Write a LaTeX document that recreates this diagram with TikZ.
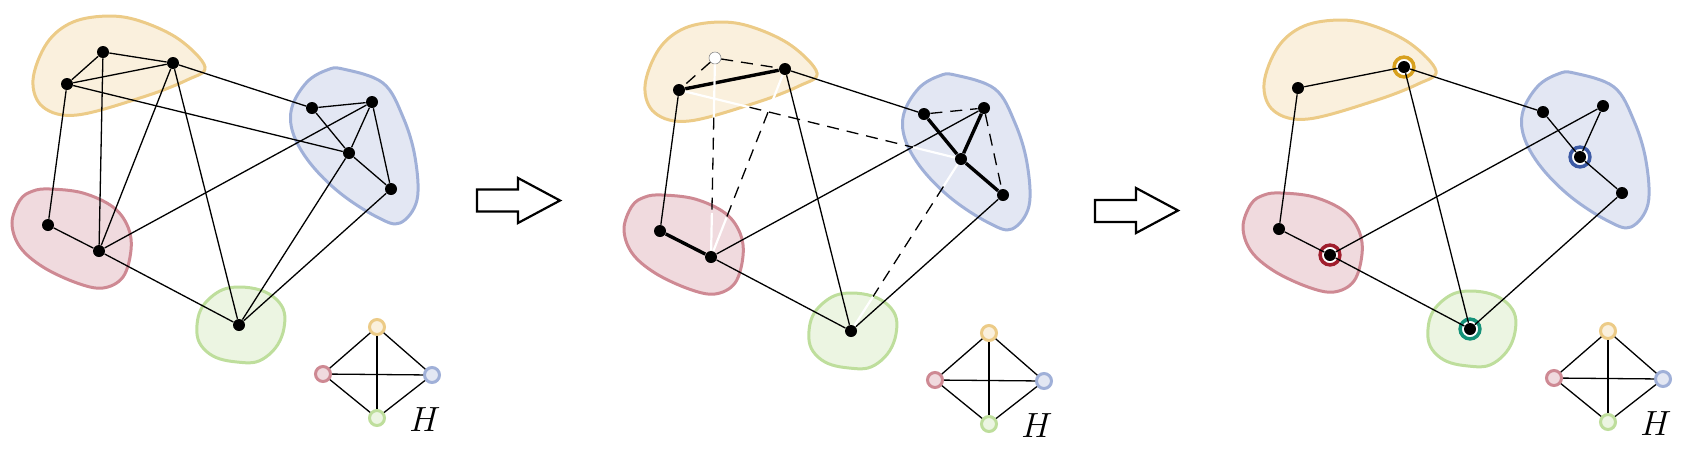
\documentclass[tikz,border=0pt]{standalone}
\usepackage{fix-cm}
\usetikzlibrary{calc}
\definecolor{ylS}{RGB}{236,203,135}
\definecolor{ylF}{RGB}{250,240,221}
\definecolor{blS}{RGB}{160,176,216}
\definecolor{blF}{RGB}{227,231,243}
\definecolor{rdS}{RGB}{206,137,147}
\definecolor{rdF}{RGB}{240,218,222}
\definecolor{grS}{RGB}{190,222,156}
\definecolor{grF}{RGB}{236,245,226}
\definecolor{rgY}{RGB}{215,160,30}
\definecolor{rgB}{RGB}{60,90,165}
\definecolor{rgR}{RGB}{160,30,45}
\definecolor{rgG}{RGB}{20,145,120}
\tikzset{
  blob/.style={line width=1.5pt},
  edge/.style={line width=0.65pt},
  heavy/.style={line width=1.7pt},
  dashedge/.style={line width=0.65pt, dash pattern=on 6pt off 4pt},
  whiteend/.style={white, line width=1.1pt},
  dot/.style={circle, fill=black, inner sep=0pt, minimum size=6pt},
  hollowdot/.style={circle, fill=white, draw=black!45, line width=0.3pt, inner sep=0pt, minimum size=6pt},
  hnode/.style={circle, line width=1.5pt, inner sep=0pt, minimum size=7.5pt},
  ring/.style={circle, line width=1.75pt, fill=white, inner sep=0pt, minimum size=9.9pt},
  bigarrow/.style={line width=1.1pt, line join=miter, fill=white},
}
\newcommand{\drawblobs}{%
  \draw[blob, draw=ylS, fill=ylF] plot[smooth cycle, tension=0.6] coordinates {(110,16) (143,22) (180,40) (205,67) (187,80) (143,97) (77,115) (43,107) (33,80) (47,43) (73,22)};
  \draw[blob, draw=blS, fill=blF] plot[smooth cycle, tension=0.6] coordinates {(343,69) (383,83) (403,117) (415,157) (417,200) (400,223) (377,217) (340,193) (310,163) (293,133) (292,107) (307,82) (327,70)};
  \draw[blob, draw=rdS, fill=rdF] plot[smooth cycle, tension=0.6] coordinates {(50,189) (83,193) (113,207) (128,227) (131,250) (123,277) (103,288) (77,283) (43,267) (20,247) (12,223) (20,200) (33,191)};
  \draw[blob, draw=grS, fill=grF] plot[smooth cycle, tension=0.75] coordinates {(240,287) (276,299) (284,328) (266,357) (237,362) (206,351) (197,325) (210,298)};
}
\newcommand{\placeverts}[1]{%
  \node[dot] (#1y2) at (173,63) {};
  \node[dot] (#1y3) at (67,84) {};
  \node[dot] (#1b1) at (312,108) {};
  \node[dot] (#1b2) at (372,102) {};
  \node[dot] (#1b3) at (349,153) {};
  \node[dot] (#1b4) at (391,189) {};
  \node[dot] (#1r1) at (48,225) {};
  \node[dot] (#1r2) at (99,251) {};
  \node[dot] (#1g) at (239,325) {};
}
\newcommand{\Hgraph}[1]{%
  \node[hnode, draw=ylS, fill=ylF] (#1hy) at (377,327) {};
  \node[hnode, draw=rdS, fill=rdF] (#1hr) at (323,374) {};
  \node[hnode, draw=blS, fill=blF] (#1hb) at (432,375) {};
  \node[hnode, draw=grS, fill=grF] (#1hg) at (377,418) {};
  \draw[edge] (#1hy) -- (#1hr);
  \draw[edge] (#1hy) -- (#1hb);
  \draw[edge] (#1hy) -- (#1hg);
  \draw[edge] (#1hr) -- (#1hb);
  \draw[edge] (#1hr) -- (#1hg);
  \draw[edge] (#1hb) -- (#1hg);
  \node (#1lab) at (425,420) {\fontsize{17.5}{20}\selectfont $H$};
}
\begin{document}
\begin{tikzpicture}[x=0.5pt, y=-0.5pt]
\useasboundingbox (0,0) rectangle (1702,463);
% ---------------- panel 1
\begin{scope}
  \drawblobs
  \placeverts{a}
  \node[dot] (ay1) at (103,52) {};
  \draw[edge] (ay1) -- (ay2);
  \draw[edge] (ay1) -- (ay3);
  \draw[edge] (ay3) -- (ay2);
  \draw[edge] (ay1) -- (ar2);
  \draw[edge] (ay2) -- (ar2);
  \draw[edge] (ay2) -- (ag);
  \draw[edge] (ay2) -- (ab1);
  \draw[edge] (ay3) -- (ar1);
  \draw[edge] (ay3) -- (ab3);
  \draw[edge] (ab1) -- (ab2);
  \draw[edge] (ab1) -- (ab3);
  \draw[edge] (ab2) -- (ab3);
  \draw[edge] (ab2) -- (ab4);
  \draw[edge] (ab3) -- (ab4);
  \draw[edge] (ab2) -- (ar2);
  \draw[edge] (ab3) -- (ag);
  \draw[edge] (ab4) -- (ag);
  \draw[edge] (ar1) -- (ar2);
  \draw[edge] (ar2) -- (ag);
  \Hgraph{a}
\end{scope}
% arrow 1
\draw[bigarrow] (477,189.5) -- (518,189.5) -- (518,178) -- (560,200.5) -- (518,223) -- (518,211.5) -- (477,211.5) -- cycle;
% ---------------- panel 2
\begin{scope}[shift={(612,6)}]
  \drawblobs
  \placeverts{b}
  \node[hollowdot] (by1) at (103,52) {};
  \draw[heavy] (by3) -- (by2);
  \draw[heavy] (br1) -- (br2);
  \draw[heavy] (bb1) -- (bb3);
  \draw[heavy] (bb2) -- (bb3);
  \draw[heavy] (bb3) -- (bb4);
  \draw[edge] (by3) -- (br1);
  \draw[edge] (by2) -- (bg);
  \draw[edge] (by2) -- (bb1);
  \draw[edge] (br2) -- (bb2);
  \draw[edge] (br2) -- (bg);
  \draw[edge] (bb4) -- (bg);
  \draw[dashedge] (by1) -- (by3);
  \draw[dashedge] (by1) -- (by2);
  \draw[dashedge] (bb1) -- (bb2);
  \draw[dashedge] (bb2) -- (bb4);
  % removed edges: white inside the clusters, dashed between them
  \draw[whiteend] (by1) -- ($(by1)!0.30!(br2)$);
  \draw[dashedge] ($(by1)!0.30!(br2)$) -- ($(by1)!0.78!(br2)$);
  \draw[whiteend] ($(by1)!0.78!(br2)$) -- (br2);
  \draw[whiteend] (by2) -- ($(by2)!0.23!(br2)$);
  \draw[dashedge] ($(by2)!0.23!(br2)$) -- ($(by2)!0.79!(br2)$);
  \draw[whiteend] ($(by2)!0.79!(br2)$) -- (br2);
  \draw[whiteend] (by3) -- ($(by3)!0.25!(bb3)$);
  \draw[dashedge] ($(by3)!0.25!(bb3)$) -- ($(by3)!0.83!(bb3)$);
  \draw[whiteend] ($(by3)!0.83!(bb3)$) -- (bb3);
  \draw[whiteend] (bb3) -- ($(bb3)!0.16!(bg)$);
  \draw[dashedge] ($(bb3)!0.16!(bg)$) -- ($(bb3)!0.80!(bg)$);
  \draw[whiteend] ($(bb3)!0.80!(bg)$) -- (bg);
  \Hgraph{b}
\end{scope}
% arrow 2
\draw[bigarrow] (1095,200) -- (1136,200) -- (1136,188) -- (1178,210.5) -- (1136,233) -- (1136,222) -- (1095,222) -- cycle;
% ---------------- panel 3
\begin{scope}[shift={(1231,4)}]
  \drawblobs
  \node[ring, draw=rgY] (cky) at (173,63) {};
  \node[ring, draw=rgB] (ckb) at (349,153) {};
  \node[ring, draw=rgR] (ckr) at (99,251) {};
  \node[ring, draw=rgG] (ckg) at (239,325) {};
  \placeverts{c}
  \draw[edge] (cy3) -- (cy2);
  \draw[edge] (cy3) -- (cr1);
  \draw[edge] (cy2) -- (cb1);
  \draw[edge] (cy2) -- (cg);
  \draw[edge] (cb1) -- (cb3);
  \draw[edge] (cb2) -- (cb3);
  \draw[edge] (cb3) -- (cb4);
  \draw[edge] (cb2) -- (cr2);
  \draw[edge] (cr1) -- (cr2);
  \draw[edge] (cr2) -- (cg);
  \draw[edge] (cb4) -- (cg);
  \Hgraph{c}
\end{scope}
\end{tikzpicture}
\end{document}
